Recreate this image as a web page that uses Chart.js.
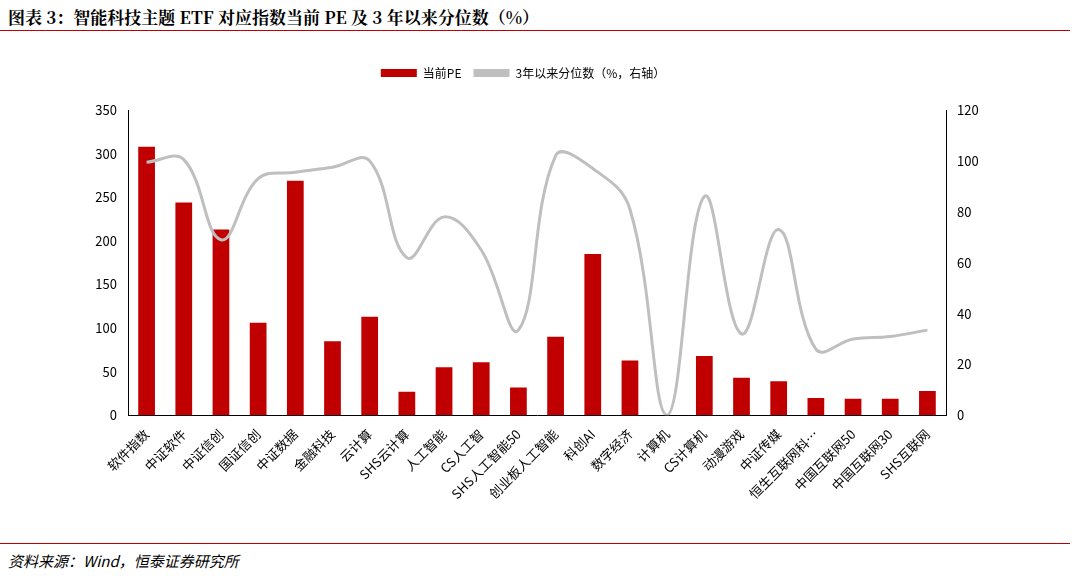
<!DOCTYPE html>
<html><head><meta charset="utf-8">
<script src="https://cdn.jsdelivr.net/npm/chart.js@4"></script>
<style>
body{margin:0;width:1076px;height:576px;background:#fff;position:relative;font-family:"Noto Sans CJK SC",sans-serif;}
#t{position:absolute;left:8px;top:4px;font-family:"Noto Serif CJK SC","Noto Sans CJK SC",serif;font-weight:bold;font-size:17px;color:#000;}
#l1{position:absolute;left:0;top:30px;width:1070px;height:1px;background:#c00000;}
#l2{position:absolute;left:0;top:543px;width:1070px;height:1px;background:#c00000;}
#s{position:absolute;left:8px;top:550px;font-size:15px;font-style:italic;color:#000;}
#c{position:absolute;left:0;top:40px;}
</style></head><body>
<div id="t">图表 3：智能科技主题 ETF 对应指数当前 PE 及 3 年以来分位数（%）</div>
<div id="l1"></div>
<canvas id="c" width="1076" height="500"></canvas>
<div id="l2"></div>
<div id="s">资料来源：Wind，恒泰证券研究所</div>
<script>
const categories=["软件指数","中证软件","中证信创","国证信创","中证数据","金融科技","云计算","SHS云计算","人工智能","CS人工智","SHS人工智能50","创业板人工智能","科创AI","数字经济","计算机","CS计算机","动漫游戏","中证传媒","恒生互联网科…","中国互联网50","中国互联网30","SHS互联网"];
const peValues=[308,244,213,106,269,85,113,27,55,61,32,90,185,63,0,68,43,39,20,19,19,28];
const pctValues=[99.5,100.5,69,93,95.5,97.5,100,62,78,65,33.5,102,97,81,0,86,32,73,26,30,31,33.5];
Chart.defaults.font.family='"Noto Sans CJK SC","Liberation Sans",sans-serif';
Chart.defaults.color='#000';
new Chart(document.getElementById('c'),{
data:{labels:categories,datasets:[
{type:'bar',label:'当前PE',data:peValues,backgroundColor:'#c00000',yAxisID:'y',barPercentage:0.45,categoryPercentage:1,order:2},
{type:'line',label:'3年以来分位数（%，右轴）',data:pctValues,borderColor:'#bfbfbf',backgroundColor:'#bfbfbf',borderWidth:3,pointRadius:0,tension:0.4,yAxisID:'y1',order:1}
]},
options:{responsive:false,animation:false,
layout:{padding:{left:20,right:50,top:15,bottom:35}},
plugins:{legend:{position:'top',labels:{font:{size:12},boxWidth:36,boxHeight:8,padding:12,
generateLabels:(ch)=>ch.data.datasets.map((d,i)=>({text:d.label,fillStyle:d.type==='bar'?'#c00000':'#bfbfbf',strokeStyle:d.type==='bar'?'#c00000':'#bfbfbf',lineWidth:0,datasetIndex:i}))}},
tooltip:{enabled:false}},
scales:{
x:{grid:{display:false},border:{color:'#000'},ticks:{maxRotation:45,minRotation:45,font:{size:13},autoSkip:false}},
y:{position:'left',min:0,max:350,ticks:{stepSize:50,font:{size:13}},grid:{display:false},border:{color:'#000'},afterFit:s=>{s.width=108}},
y1:{position:'right',min:0,max:120,ticks:{stepSize:20,font:{size:13}},grid:{display:false},border:{color:'#000'},afterFit:s=>{s.width=80}}
}},
plugins:[{id:'legendGap',beforeInit(ch){const f=ch.legend.fit;ch.legend.fit=function(){f.bind(ch.legend)();this.height+=21;};}}]
});
</script>
</body></html>
